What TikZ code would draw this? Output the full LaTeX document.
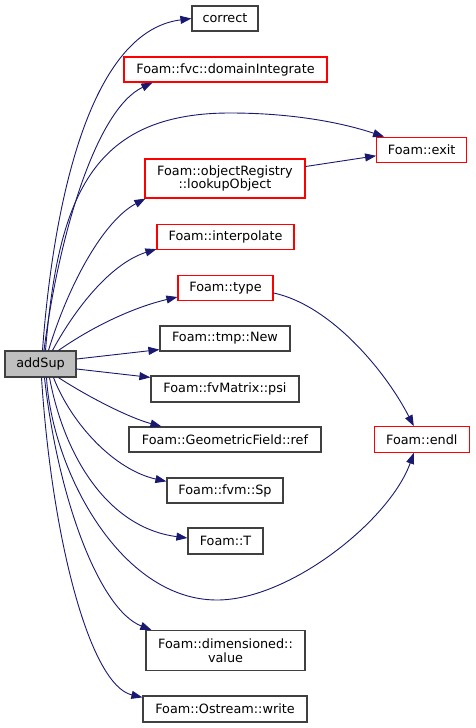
\documentclass[tikz,border=0pt]{standalone}
\usepackage{fontspec}
\setmainfont{DejaVu Sans}
\usetikzlibrary{arrows.meta,calc}
\definecolor{edgeblue}{HTML}{191970}
\definecolor{boxgray}{HTML}{404040}
\definecolor{boxred}{HTML}{FF0000}
\definecolor{fillgray}{HTML}{BFBFBF}
\tikzset{
  fn/.style={draw=boxgray, line width=1.2pt, fill=white, inner sep=0pt, align=center,
    font=\fontsize{12.8}{15}\selectfont},
  fnred/.style={fn, draw=boxred},
  edge/.style={draw=edgeblue, line width=0.9pt, -{Triangle[length=11pt,width=8pt]}},
}
\begin{document}
\begin{tikzpicture}[x=1pt,y=-1pt]
\useasboundingbox (0,0) rectangle (475,728);
% nodes
\node[fn, fill=fillgray, minimum width=71pt, minimum height=26pt] (addSup) at (40.5,364) {addSup};
\node[fn, minimum width=66pt, minimum height=25pt] (correct) at (225,18.5) {correct};
\node[fnred, minimum width=203pt, minimum height=25pt] (domInt) at (225.5,69.5) {Foam::fvc::domainIntegrate};
\node[fnred, minimum width=90pt, minimum height=25pt] (exit) at (421.7,149.8) {Foam::exit};
\node[fnred, minimum width=160pt, minimum height=39pt] (objReg) at (225,178.5) {Foam::objectRegistry\\[-1.5pt]::lookupObject};
\node[fnred, minimum width=137pt, minimum height=25pt] (interp) at (225.5,237) {Foam::interpolate};
\node[fnred, minimum width=95pt, minimum height=25pt] (type) at (225.5,288) {Foam::type};
\node[fn, minimum width=130pt, minimum height=25pt] (tmpNew) at (225,338.5) {Foam::tmp::New};
\node[fn, minimum width=148pt, minimum height=26pt] (psi) at (225,389) {Foam::fvMatrix::psi};
\node[fn, minimum width=192pt, minimum height=25pt] (ref) at (225,439.5) {Foam::GeometricField::ref};
\node[fnred, minimum width=95pt, minimum height=25.5pt] (endl) at (421.8,439.5) {Foam::endl};
\node[fn, minimum width=116pt, minimum height=25pt] (Sp) at (225,490.5) {Foam::fvm::Sp};
\node[fn, minimum width=75pt, minimum height=26pt] (T) at (225.5,541) {Foam::T};
\node[fn, minimum width=159pt, minimum height=40pt] (value) at (225.5,650.5) {Foam::dimensioned::\\[-1.5pt]value};
\node[fn, minimum width=164pt, minimum height=26pt] (write) at (225,709) {Foam::Ostream::write};
% edges
\draw[edge] ($(addSup.north)+(2,0)$) .. controls (52,220) and (85,32) .. (correct.west);
\draw[edge] ($(addSup.north)+(3.5,0)$) .. controls (58,240) and (95,110) .. ($(domInt.south west)+(29,0)$);
\draw[edge] ($(addSup.north)+(5,0)$) .. controls (58,200) and (90,113) .. (230,113) .. controls (290,113) and (340,122) .. ($(exit.north west)+(8,0)$);
\draw[edge] ($(addSup.north)+(8,0)$) .. controls (70,280) and (105,220) .. ($(objReg.south west)+(1,0)$);
\draw[edge] ($(addSup.north)+(12,0)$) .. controls (80,300) and (115,262) .. ($(interp.south west)+(0,-1)$);
\draw[edge] ($(addSup.north)+(18,0)$) .. controls (95,325) and (135,307) .. ($(type.west)+(0,9)$);
\draw[edge] ($(addSup.east)+(0,-5)$) -- ($(tmpNew.south west)+(0,-2)$);
\draw[edge] ($(addSup.east)+(0,5)$) -- ($(psi.north west)+(0,2)$);
\draw[edge] ($(addSup.south)+(18,0)$) .. controls (90,398) and (130,418) .. ($(ref.north west)+(33,0)$);
\draw[edge] ($(addSup.south)+(13,0)$) .. controls (72,425) and (115,470) .. ($(Sp.north west)+(0,4)$);
\draw[edge] ($(addSup.south)+(9,0)$) .. controls (65,460) and (110,528) .. ($(T.west)+(0,-3)$);
\draw[edge] ($(addSup.south)+(6,0)$) .. controls (52,470) and (120,600) .. (217,600) .. controls (290,600) and (390,520) .. ($(endl.south)+(-8,0)$);
\draw[edge] ($(addSup.south)+(4,0)$) .. controls (58,500) and (100,610) .. ($(value.north west)+(6,0)$);
\draw[edge] ($(addSup.south)+(1,0)$) .. controls (52,540) and (90,685) .. ($(write.north west)+(0,2)$);
\draw[edge] ($(objReg.east)+(0,-12)$) -- ($(exit.west)+(0,6)$);
\draw[edge] ($(type.east)+(0,5)$) .. controls (330,305) and (385,370) .. ($(endl.north)+(-8,0)$);
\end{tikzpicture}
\end{document}
